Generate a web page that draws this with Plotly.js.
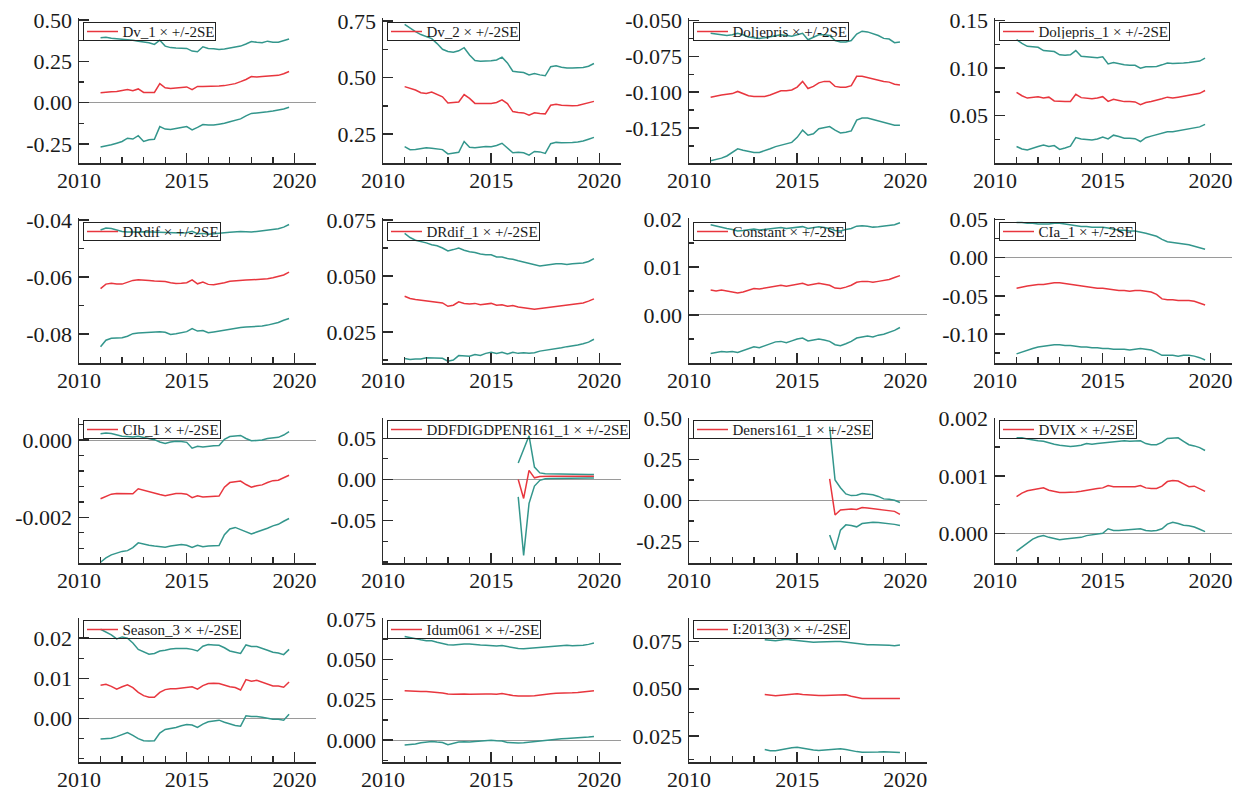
<!DOCTYPE html>
<html><head><meta charset="utf-8">
<script src="https://cdn.plot.ly/plotly-3.0.1.min.js"></script>
<style>html,body{margin:0;padding:0;background:#fff;} #chart{width:1248px;height:793px;}</style>
</head><body><div id="chart"></div>
<script>
const quarters = [2011,2011.25,2011.5,2011.75,2012,2012.25,2012.5,2012.75,2013,2013.25,2013.5,2013.75,2014,2014.25,2014.5,2014.75,2015,2015.25,2015.5,2015.75,2016,2016.25,2016.5,2016.75,2017,2017.25,2017.5,2017.75,2018,2018.25,2018.5,2018.75,2019,2019.25,2019.5,2019.75];
const yearTicks = [2010, 2015, 2020];
const yearLabels = ['2010', '2015', '2020'];

// Dv_1
const dv1Mid = [0.060,0.065,0.066,0.067,0.075,0.080,0.072,0.083,0.062,0.060,0.062,0.115,0.090,0.085,0.088,0.090,0.095,0.078,0.098,0.097,0.097,0.098,0.100,0.103,0.108,0.115,0.127,0.140,0.158,0.155,0.158,0.160,0.162,0.165,0.175,0.188];
const dv1Hi = [0.392,0.395,0.390,0.388,0.386,0.383,0.378,0.372,0.368,0.362,0.352,0.378,0.342,0.333,0.330,0.330,0.328,0.312,0.308,0.338,0.328,0.326,0.322,0.324,0.330,0.335,0.342,0.355,0.370,0.365,0.362,0.372,0.365,0.366,0.375,0.385];
const dv1Lo = [-0.268,-0.262,-0.255,-0.245,-0.235,-0.215,-0.220,-0.200,-0.235,-0.225,-0.222,-0.145,-0.160,-0.162,-0.158,-0.150,-0.145,-0.165,-0.150,-0.132,-0.135,-0.135,-0.130,-0.125,-0.115,-0.105,-0.098,-0.080,-0.065,-0.062,-0.060,-0.055,-0.050,-0.045,-0.038,-0.028];
const dv1TickVals = [0.5, 0.25, 0, -0.25];
const dv1TickText = ['0.50', '0.25', '0.00', '-0.25'];

// Dv_2
const dv2Mid = [0.460,0.453,0.445,0.433,0.430,0.436,0.424,0.415,0.388,0.390,0.392,0.425,0.408,0.386,0.385,0.385,0.386,0.390,0.402,0.385,0.350,0.346,0.344,0.334,0.345,0.342,0.340,0.378,0.382,0.378,0.376,0.376,0.377,0.382,0.388,0.395];
const dv2Hi = [0.735,0.718,0.703,0.690,0.680,0.672,0.650,0.625,0.615,0.612,0.618,0.632,0.600,0.575,0.572,0.572,0.574,0.578,0.590,0.565,0.528,0.525,0.522,0.512,0.518,0.512,0.508,0.548,0.552,0.546,0.542,0.542,0.543,0.545,0.550,0.562];
const dv2Lo = [0.195,0.182,0.183,0.186,0.190,0.188,0.185,0.182,0.163,0.166,0.170,0.218,0.192,0.190,0.193,0.196,0.195,0.200,0.210,0.188,0.168,0.170,0.168,0.158,0.174,0.172,0.165,0.208,0.214,0.212,0.212,0.214,0.216,0.220,0.228,0.236];
const dv2TickVals = [0.75, 0.5, 0.25];
const dv2TickText = ['0.75', '0.50', '0.25'];

// Doljepris
const dolMid = [-0.1035,-0.1025,-0.1020,-0.1015,-0.1010,-0.0995,-0.1010,-0.1025,-0.1030,-0.1030,-0.1030,-0.1020,-0.1005,-0.0990,-0.0990,-0.0985,-0.0965,-0.0925,-0.0975,-0.0960,-0.0935,-0.0925,-0.0925,-0.0960,-0.0965,-0.0965,-0.0955,-0.0890,-0.0890,-0.0900,-0.0905,-0.0915,-0.0925,-0.0930,-0.0945,-0.0950];
const dolHi = [-0.0590,-0.0595,-0.0600,-0.0605,-0.0600,-0.0590,-0.0600,-0.0615,-0.0620,-0.0625,-0.0620,-0.0615,-0.0605,-0.0600,-0.0605,-0.0610,-0.0600,-0.0590,-0.0635,-0.0615,-0.0600,-0.0600,-0.0605,-0.0640,-0.0650,-0.0650,-0.0640,-0.0595,-0.0575,-0.0580,-0.0590,-0.0605,-0.0625,-0.0630,-0.0655,-0.0650];
const dolLo = [-0.1478,-0.1470,-0.1460,-0.1445,-0.1420,-0.1395,-0.1405,-0.1415,-0.1420,-0.1420,-0.1410,-0.1395,-0.1380,-0.1370,-0.1360,-0.1350,-0.1315,-0.1265,-0.1300,-0.1290,-0.1255,-0.1245,-0.1240,-0.1265,-0.1285,-0.1280,-0.1270,-0.1195,-0.1180,-0.1180,-0.1190,-0.1200,-0.1210,-0.1215,-0.1230,-0.1230];
const dolTickVals = [-0.05, -0.075, -0.1, -0.125];
const dolTickText = ['-0.050', '-0.075', '-0.100', '-0.125'];

// Doljepris_1
const dol1Mid = [0.0745,0.0710,0.0685,0.0690,0.0700,0.0685,0.0695,0.0655,0.0648,0.0648,0.0650,0.0725,0.0690,0.0680,0.0678,0.0685,0.0700,0.0650,0.0672,0.0660,0.0648,0.0648,0.0645,0.0615,0.0638,0.0650,0.0660,0.0678,0.0695,0.0685,0.0695,0.0705,0.0715,0.0720,0.0735,0.0765];
const dol1Hi = [0.1300,0.1260,0.1230,0.1225,0.1220,0.1185,0.1180,0.1175,0.1140,0.1135,0.1140,0.1185,0.1125,0.1118,0.1115,0.1110,0.1120,0.1045,0.1060,0.1045,0.1035,0.1030,0.1030,0.1000,0.1015,0.1015,0.1018,0.1035,0.1055,0.1050,0.1050,0.1055,0.1060,0.1065,0.1075,0.1105];
const dol1Lo = [0.0175,0.0150,0.0140,0.0160,0.0175,0.0190,0.0175,0.0185,0.0145,0.0160,0.0180,0.0270,0.0255,0.0250,0.0245,0.0255,0.0275,0.0255,0.0295,0.0280,0.0262,0.0262,0.0258,0.0228,0.0268,0.0285,0.0298,0.0315,0.0330,0.0330,0.0340,0.0350,0.0362,0.0370,0.0382,0.0408];
const dol1TickVals = [0.15, 0.10, 0.05];
const dol1TickText = ['0.15', '0.10', '0.05'];

// DRdif
const drMid = [-0.0641,-0.0625,-0.0622,-0.0625,-0.0625,-0.0618,-0.0612,-0.0610,-0.0610,-0.0612,-0.0614,-0.0615,-0.0616,-0.0620,-0.0623,-0.0622,-0.0620,-0.0610,-0.0624,-0.0618,-0.0626,-0.0627,-0.0624,-0.0620,-0.0615,-0.0613,-0.0611,-0.0611,-0.0610,-0.0609,-0.0608,-0.0606,-0.0603,-0.0598,-0.0593,-0.0583];
const drHi = [-0.0435,-0.0428,-0.0430,-0.0436,-0.0440,-0.0442,-0.0443,-0.0442,-0.0441,-0.0442,-0.0443,-0.0444,-0.0445,-0.0446,-0.0447,-0.0446,-0.0445,-0.0440,-0.0448,-0.0447,-0.0450,-0.0449,-0.0446,-0.0445,-0.0443,-0.0441,-0.0440,-0.0441,-0.0442,-0.0440,-0.0438,-0.0437,-0.0435,-0.0431,-0.0425,-0.0416];
const drLo = [-0.0845,-0.0822,-0.0815,-0.0815,-0.0813,-0.0808,-0.0799,-0.0797,-0.0796,-0.0794,-0.0792,-0.0792,-0.0794,-0.0802,-0.0799,-0.0795,-0.0792,-0.0781,-0.0790,-0.0788,-0.0796,-0.0793,-0.0790,-0.0785,-0.0782,-0.0780,-0.0777,-0.0776,-0.0775,-0.0773,-0.0772,-0.0769,-0.0765,-0.0760,-0.0752,-0.0746];
const drTickVals = [-0.04, -0.06, -0.08];
const drTickText = ['-0.04', '-0.06', '-0.08'];

// DRdif_1
const dr1Mid = [0.0410,0.0400,0.0395,0.0392,0.0392,0.0388,0.0385,0.0380,0.0365,0.0370,0.0385,0.0378,0.0375,0.0378,0.0372,0.0375,0.0378,0.0370,0.0372,0.0365,0.0368,0.0362,0.0360,0.0355,0.0352,0.0355,0.0358,0.0362,0.0365,0.0368,0.0370,0.0372,0.0375,0.0380,0.0388,0.0398];
const dr1Hi = [0.0690,0.0672,0.0660,0.0655,0.0648,0.0640,0.0635,0.0625,0.0612,0.0618,0.0625,0.0615,0.0608,0.0605,0.0598,0.0595,0.0595,0.0585,0.0585,0.0578,0.0575,0.0568,0.0562,0.0555,0.0548,0.0545,0.0548,0.0552,0.0555,0.0555,0.0552,0.0555,0.0555,0.0558,0.0565,0.0578];
const dr1Lo = [0.0132,0.0128,0.0130,0.0130,0.0135,0.0135,0.0135,0.0133,0.0120,0.0125,0.0145,0.0142,0.0142,0.0150,0.0146,0.0155,0.0160,0.0155,0.0160,0.0152,0.0160,0.0155,0.0158,0.0155,0.0158,0.0165,0.0168,0.0172,0.0175,0.0180,0.0185,0.0188,0.0192,0.0198,0.0205,0.0218];
const dr1TickVals = [0.075, 0.05, 0.025];
const dr1TickText = ['0.075', '0.050', '0.025'];

// Constant
const conMid = [0.0052,0.0050,0.0052,0.0050,0.0048,0.0046,0.0048,0.0052,0.0055,0.0054,0.0056,0.0058,0.0060,0.0062,0.0060,0.0062,0.0064,0.0066,0.0062,0.0064,0.0066,0.0064,0.0062,0.0056,0.0055,0.0058,0.0062,0.0068,0.0070,0.0070,0.0068,0.0070,0.0072,0.0074,0.0078,0.0082];
const conHi = [0.0188,0.0185,0.0182,0.0180,0.0178,0.0175,0.0176,0.0178,0.0179,0.0177,0.0178,0.0180,0.0180,0.0182,0.0180,0.0181,0.0182,0.0184,0.0180,0.0182,0.0184,0.0182,0.0180,0.0176,0.0175,0.0178,0.0180,0.0185,0.0186,0.0185,0.0183,0.0184,0.0185,0.0186,0.0188,0.0192];
const conLo = [-0.0080,-0.0078,-0.0076,-0.0077,-0.0076,-0.0078,-0.0074,-0.0070,-0.0066,-0.0068,-0.0064,-0.0060,-0.0056,-0.0055,-0.0058,-0.0054,-0.0050,-0.0048,-0.0054,-0.0052,-0.0050,-0.0052,-0.0055,-0.0062,-0.0064,-0.0060,-0.0055,-0.0048,-0.0046,-0.0044,-0.0046,-0.0042,-0.0040,-0.0036,-0.0032,-0.0026];
const conTickVals = [0.02, 0.01, 0];
const conTickText = ['0.02', '0.01', '0.00'];

// CIa_1
const ciaMid = [-0.040,-0.038,-0.037,-0.036,-0.035,-0.035,-0.034,-0.033,-0.033,-0.034,-0.035,-0.036,-0.037,-0.038,-0.039,-0.040,-0.040,-0.041,-0.042,-0.043,-0.043,-0.044,-0.043,-0.043,-0.044,-0.045,-0.048,-0.054,-0.055,-0.055,-0.056,-0.056,-0.056,-0.057,-0.059,-0.062];
const ciaHi = [0.046,0.046,0.045,0.045,0.044,0.044,0.044,0.045,0.045,0.044,0.043,0.042,0.041,0.041,0.040,0.040,0.040,0.039,0.037,0.036,0.036,0.035,0.035,0.034,0.032,0.030,0.028,0.024,0.021,0.020,0.019,0.018,0.017,0.015,0.013,0.011];
const ciaLo = [-0.126,-0.124,-0.121,-0.119,-0.117,-0.116,-0.115,-0.114,-0.114,-0.115,-0.115,-0.116,-0.117,-0.117,-0.118,-0.118,-0.119,-0.119,-0.120,-0.120,-0.120,-0.121,-0.120,-0.119,-0.120,-0.121,-0.124,-0.128,-0.128,-0.128,-0.129,-0.128,-0.128,-0.129,-0.131,-0.134];
const ciaTickVals = [0.05, 0, -0.05, -0.10];
const ciaTickText = ['0.05', '0.00', '-0.05', '-0.10'];

// CIb_1
const cibMid = [-0.00152,-0.00146,-0.00140,-0.00138,-0.00138,-0.00138,-0.00139,-0.00126,-0.00130,-0.00133,-0.00136,-0.00141,-0.00144,-0.00140,-0.00138,-0.00138,-0.00140,-0.00149,-0.00144,-0.00147,-0.00146,-0.00145,-0.00145,-0.00122,-0.00110,-0.00108,-0.00106,-0.00115,-0.00122,-0.00118,-0.00116,-0.00110,-0.00105,-0.00104,-0.00097,-0.00091];
const cibHi = [0.00016,0.00018,0.00017,0.00014,0.00010,0.00009,0.00008,0.00010,0.00007,0.00004,0.00001,-0.00005,-0.00009,-0.00005,-0.00003,-0.00004,-0.00006,-0.00021,-0.00016,-0.00018,-0.00016,-0.00015,-0.00014,0.00002,0.00009,0.00011,0.00012,0.00004,-0.00002,-0.00001,0.00000,0.00004,0.00006,0.00007,0.00013,0.00022];
const cibLo = [-0.00316,-0.00305,-0.00297,-0.00292,-0.00288,-0.00286,-0.00278,-0.00266,-0.00270,-0.00272,-0.00274,-0.00276,-0.00277,-0.00274,-0.00272,-0.00270,-0.00272,-0.00278,-0.00272,-0.00276,-0.00274,-0.00273,-0.00273,-0.00245,-0.00230,-0.00226,-0.00232,-0.00238,-0.00243,-0.00238,-0.00234,-0.00228,-0.00222,-0.00218,-0.00210,-0.00203];
const cibTickVals = [0, -0.002];
const cibTickText = ['0.000', '-0.002'];

// DDFDIGDPENR161_1
const ddfMid = [null,null,null,null,null,null,null,null,null,null,null,null,null,null,null,null,null,null,null,null,null,0.000,-0.023,0.011,0.002,0.0035,0.004,0.004,0.004,0.004,0.004,0.004,0.004,0.004,0.004,0.004];
const ddfHi = [null,null,null,null,null,null,null,null,null,null,null,null,null,null,null,null,null,null,null,null,null,0.020,0.036,0.053,0.015,0.008,0.007,0.0068,0.0066,0.0065,0.0064,0.0064,0.0063,0.0063,0.0062,0.0062];
const ddfLo = [null,null,null,null,null,null,null,null,null,null,null,null,null,null,null,null,null,null,null,null,null,-0.021,-0.092,-0.029,-0.008,-0.001,0.0008,0.0012,0.0014,0.0015,0.0016,0.0016,0.0017,0.0017,0.0018,0.0018];
const ddfTickVals = [0.05, 0, -0.05];
const ddfTickText = ['0.05', '0.00', '-0.05'];

// Deners161_1
const denMid = [null,null,null,null,null,null,null,null,null,null,null,null,null,null,null,null,null,null,null,null,null,null,0.132,-0.088,-0.058,-0.056,-0.052,-0.055,-0.043,-0.046,-0.050,-0.054,-0.056,-0.060,-0.066,-0.084];
const denHi = [null,null,null,null,null,null,null,null,null,null,null,null,null,null,null,null,null,null,null,null,null,null,0.450,0.125,0.078,0.040,0.030,0.032,0.042,0.040,0.035,0.025,0.010,0.008,0.002,-0.012];
const denLo = [null,null,null,null,null,null,null,null,null,null,null,null,null,null,null,null,null,null,null,null,null,null,-0.210,-0.300,-0.180,-0.148,-0.152,-0.160,-0.140,-0.135,-0.132,-0.133,-0.136,-0.140,-0.145,-0.152];
const denTickVals = [0.5, 0.25, 0, -0.25];
const denTickText = ['0.50', '0.25', '0.00', '-0.25'];

// DVIX
const vixMid = [0.00064,0.00070,0.00074,0.00076,0.00077,0.00079,0.00075,0.00073,0.00071,0.00071,0.00071,0.00072,0.00073,0.00075,0.00077,0.00078,0.00079,0.00083,0.00081,0.00081,0.00081,0.00081,0.00081,0.00083,0.00079,0.00078,0.00078,0.00082,0.00090,0.00092,0.00091,0.00086,0.00081,0.00082,0.00077,0.00073];
const vixHi = [0.00166,0.00166,0.00164,0.00162,0.00161,0.00160,0.00157,0.00155,0.00153,0.00152,0.00151,0.00152,0.00153,0.00156,0.00155,0.00156,0.00157,0.00159,0.00159,0.00160,0.00161,0.00160,0.00160,0.00161,0.00156,0.00154,0.00154,0.00158,0.00165,0.00166,0.00166,0.00160,0.00154,0.00152,0.00149,0.00144];
const vixLo = [-0.00031,-0.00024,-0.00017,-0.00010,-0.00006,-0.00004,-0.00007,-0.00009,-0.00011,-0.00010,-0.00009,-0.00008,-0.00007,-0.00004,-0.00003,-0.00001,0.00000,0.00008,0.00005,0.00005,0.00006,0.00006,0.00007,0.00008,0.00005,0.00004,0.00005,0.00008,0.00016,0.00019,0.00017,0.00014,0.00013,0.00011,0.00007,0.00003];
const vixTickVals = [0.002, 0.001, 0];
const vixTickText = ['0.002', '0.001', '0.000'];

// Season_3
const seaMid = [0.0083,0.0085,0.0080,0.0073,0.0079,0.0084,0.0077,0.0065,0.0057,0.0053,0.0053,0.0065,0.0072,0.0074,0.0074,0.0076,0.0077,0.0079,0.0073,0.0082,0.0087,0.0088,0.0087,0.0083,0.0079,0.0077,0.0071,0.0097,0.0093,0.0095,0.0090,0.0084,0.0081,0.0081,0.0078,0.0091];
const seaHi = [0.0222,0.0215,0.0208,0.0198,0.0203,0.0200,0.0188,0.0172,0.0165,0.0160,0.0162,0.0168,0.0170,0.0173,0.0174,0.0174,0.0174,0.0172,0.0168,0.0180,0.0184,0.0183,0.0182,0.0176,0.0168,0.0165,0.0162,0.0183,0.0179,0.0179,0.0175,0.0170,0.0165,0.0163,0.0159,0.0172];
const seaLo = [-0.0051,-0.0050,-0.0049,-0.0045,-0.0039,-0.0035,-0.0042,-0.0050,-0.0055,-0.0056,-0.0055,-0.0036,-0.0027,-0.0025,-0.0022,-0.0018,-0.0015,-0.0016,-0.0022,-0.0014,-0.0008,-0.0006,-0.0004,-0.0009,-0.0014,-0.0017,-0.0019,0.0007,0.0005,0.0005,0.0003,0.0000,-0.0002,-0.0002,-0.0004,0.0011];
const seaTickVals = [0.02, 0.01, 0];
const seaTickText = ['0.02', '0.01', '0.00'];

// Idum061
const idumMid = [0.0305,0.0302,0.0301,0.0300,0.0300,0.0299,0.0295,0.0292,0.0285,0.0284,0.0286,0.0286,0.0284,0.0283,0.0283,0.0285,0.0286,0.0284,0.0288,0.0280,0.0276,0.0273,0.0272,0.0273,0.0275,0.0280,0.0284,0.0287,0.0290,0.0290,0.0292,0.0293,0.0295,0.0298,0.0302,0.0306];
const idumHi = [0.0640,0.0632,0.0625,0.0620,0.0615,0.0614,0.0605,0.0598,0.0590,0.0588,0.0592,0.0594,0.0595,0.0590,0.0588,0.0586,0.0584,0.0582,0.0585,0.0578,0.0570,0.0566,0.0565,0.0568,0.0572,0.0575,0.0578,0.0580,0.0583,0.0585,0.0586,0.0584,0.0583,0.0586,0.0592,0.0600];
const idumLo = [-0.0030,-0.0027,-0.0024,-0.0016,-0.0010,-0.0008,-0.0012,-0.0015,-0.0028,-0.0020,-0.0012,-0.0010,-0.0012,-0.0008,-0.0006,-0.0002,0.0000,-0.0004,-0.0005,-0.0014,-0.0018,-0.0018,-0.0016,-0.0012,-0.0008,-0.0005,-0.0002,0.0002,0.0005,0.0008,0.0010,0.0012,0.0012,0.0015,0.0019,0.0023];
const idumTickVals = [0.075, 0.05, 0.025, 0];
const idumTickText = ['0.075', '0.050', '0.025', '0.000'];

// I:2013(3)
const i13Mid = [null,null,null,null,null,null,null,null,null,null,0.0470,0.0465,0.0463,0.0466,0.0469,0.0472,0.0474,0.0470,0.0467,0.0465,0.0464,0.0464,0.0465,0.0468,0.0470,0.0468,0.0460,0.0453,0.0449,0.0448,0.0448,0.0448,0.0448,0.0448,0.0448,0.0448];
const i13Hi = [null,null,null,null,null,null,null,null,null,null,0.0760,0.0757,0.0755,0.0758,0.0762,0.0758,0.0755,0.0752,0.0748,0.0747,0.0748,0.0750,0.0751,0.0751,0.0750,0.0747,0.0742,0.0737,0.0734,0.0733,0.0733,0.0733,0.0732,0.0730,0.0728,0.0732];
const i13Lo = [null,null,null,null,null,null,null,null,null,null,0.0178,0.0172,0.0172,0.0178,0.0183,0.0187,0.0190,0.0184,0.0178,0.0175,0.0173,0.0175,0.0178,0.0180,0.0182,0.0178,0.0172,0.0167,0.0164,0.0163,0.0163,0.0165,0.0166,0.0165,0.0162,0.0162];
const i13TickVals = [0.075, 0.05, 0.025];
const i13TickText = ['0.075', '0.050', '0.025'];

const panels = [
  {name:'Dv_1', mid:dv1Mid, hi:dv1Hi, lo:dv1Lo, tv:dv1TickVals, tt:dv1TickText, range:[-0.365,0.512], minor:0.125},
  {name:'Dv_2', mid:dv2Mid, hi:dv2Hi, lo:dv2Lo, tv:dv2TickVals, tt:dv2TickText, range:[0.123,0.763], minor:0.125},
  {name:'Doljepris', mid:dolMid, hi:dolHi, lo:dolLo, tv:dolTickVals, tt:dolTickText, range:[-0.1494,-0.0483], minor:0.0125},
  {name:'Doljepris_1', mid:dol1Mid, hi:dol1Hi, lo:dol1Lo, tv:dol1TickVals, tt:dol1TickText, range:[0.0002,0.1528], minor:0.025},
  {name:'DRdif', mid:drMid, hi:drHi, lo:drLo, tv:drTickVals, tt:drTickText, range:[-0.0902,-0.0393], minor:0.01},
  {name:'DRdif_1', mid:dr1Mid, hi:dr1Hi, lo:dr1Lo, tv:dr1TickVals, tt:dr1TickText, range:[0.0112,0.0759], minor:0.0125},
  {name:'Constant', mid:conMid, hi:conHi, lo:conLo, tv:conTickVals, tt:conTickText, range:[-0.0100,0.0202], minor:0.005},
  {name:'CIa_1', mid:ciaMid, hi:ciaHi, lo:ciaLo, tv:ciaTickVals, tt:ciaTickText, range:[-0.138,0.052], minor:0.025},
  {name:'CIb_1', mid:cibMid, hi:cibHi, lo:cibLo, tv:cibTickVals, tt:cibTickText, range:[-0.00318,0.00057], minor:0.0004},
  {name:'DDFDIGDPENR161_1', mid:ddfMid, hi:ddfHi, lo:ddfLo, tv:ddfTickVals, tt:ddfTickText, range:[-0.1013,0.0746], minor:0.025},
  {name:'Deners161_1', mid:denMid, hi:denHi, lo:denLo, tv:denTickVals, tt:denTickText, range:[-0.380,0.502], minor:0.125},
  {name:'DVIX', mid:vixMid, hi:vixHi, lo:vixLo, tv:vixTickVals, tt:vixTickText, range:[-0.000516,0.002005], minor:0.0005},
  {name:'Season_3', mid:seaMid, hi:seaHi, lo:seaLo, tv:seaTickVals, tt:seaTickText, range:[-0.0108,0.0250], minor:0.005},
  {name:'Idum061', mid:idumMid, hi:idumHi, lo:idumLo, tv:idumTickVals, tt:idumTickText, range:[-0.0135,0.0755], minor:0.0125},
  {name:'I:2013(3)', mid:i13Mid, hi:i13Hi, lo:i13Lo, tv:i13TickVals, tt:i13TickText, range:[0.0112,0.0875], minor:0.0125}
];

const W = 1248, H = 793;
const colLeft = [79, 383, 689, 995], colRight = [316, 621, 927, 1232];
const rowTop = [18, 218, 418, 618], rowBot = [163, 363, 563, 762];
const boxTop = [22, 222, 420, 620];
const FONT = '"Liberation Serif", "Times New Roman", Times, serif';
const RED = '#e8363e', TEAL = '#33968c', AX = '#2b2b2b';

const data = [], shapes = [], annotations = [];
const layout = {
  width: W, height: H, margin: {l:0, r:0, t:0, b:0},
  paper_bgcolor: '#fff', plot_bgcolor: '#fff', showlegend: false,
  font: {family: FONT, color: '#1a1a1a'}
};

panels.forEach((p, i) => {
  const r = Math.floor(i / 4), c = i % 4, k = i + 1;
  const xa = 'x' + (k === 1 ? '' : k), ya = 'y' + (k === 1 ? '' : k);
  [p.hi, p.lo].forEach(arr => data.push({x: quarters, y: arr, xaxis: xa, yaxis: ya, type: 'scatter', mode: 'lines',
    line: {color: TEAL, width: 1.5}, connectgaps: false, hoverinfo: 'skip'}));
  data.push({x: quarters, y: p.mid, xaxis: xa, yaxis: ya, type: 'scatter', mode: 'lines',
    line: {color: RED, width: 1.5}, connectgaps: false, name: p.name});
  layout['xaxis' + (k === 1 ? '' : k)] = {
    domain: [colLeft[c] / W, colRight[c] / W], range: [2010, 2021], anchor: ya,
    tickmode: 'array', tickvals: yearTicks, ticktext: yearLabels,
    ticks: 'inside', ticklen: 10, tickwidth: 1.5, tickcolor: AX, ticklabelstandoff: -3,
    showline: true, linecolor: AX, linewidth: 1.5, showgrid: false, zeroline: false,
    minor: {ticks: 'inside', tick0: 2010, dtick: 1, ticklen: 6, tickwidth: 1.2, tickcolor: AX, showgrid: false},
    tickfont: {family: FONT, size: 22, color: '#1a1a1a'}, fixedrange: true
  };
  layout['yaxis' + (k === 1 ? '' : k)] = {
    domain: [1 - rowBot[r] / H, 1 - rowTop[r] / H], range: p.range, anchor: xa,
    tickmode: 'array', tickvals: p.tv, ticktext: p.tt,
    ticks: 'inside', ticklen: 10, tickwidth: 1.5, tickcolor: AX, ticklabelstandoff: 1,
    showline: true, linecolor: AX, linewidth: 1.5, showgrid: false,
    zeroline: true, zerolinecolor: '#9a9a9a', zerolinewidth: 1,
    minor: {ticks: 'inside', tick0: 0, dtick: p.minor, ticklen: 5, tickwidth: 1.2, tickcolor: AX, showgrid: false},
    tickfont: {family: FONT, size: 22, color: '#1a1a1a'}, fixedrange: true
  };
  const bl = colLeft[c] + 4, bt = boxTop[r];
  annotations.push({
    xref: 'paper', yref: 'paper', x: bl / W, y: 1 - bt / H, xanchor: 'left', yanchor: 'top',
    text: '\u00a0'.repeat(10) + p.name + ' \u00d7 +/-2SE', showarrow: false,
    font: {family: FONT, size: 15, color: '#1a1a1a'},
    bordercolor: '#222', borderwidth: 1, borderpad: 1, height: 15, bgcolor: 'rgba(0,0,0,0)'
  });
  shapes.push({type: 'line', xref: 'paper', yref: 'paper',
    x0: (bl + 4) / W, x1: (bl + 35) / W, y0: 1 - (bt + 9.5) / H, y1: 1 - (bt + 9.5) / H,
    line: {color: RED, width: 1.5}});
});
layout.shapes = shapes;
layout.annotations = annotations;

Plotly.newPlot('chart', data, layout, {staticPlot: true, displayModeBar: false});
</script>
</body></html>
